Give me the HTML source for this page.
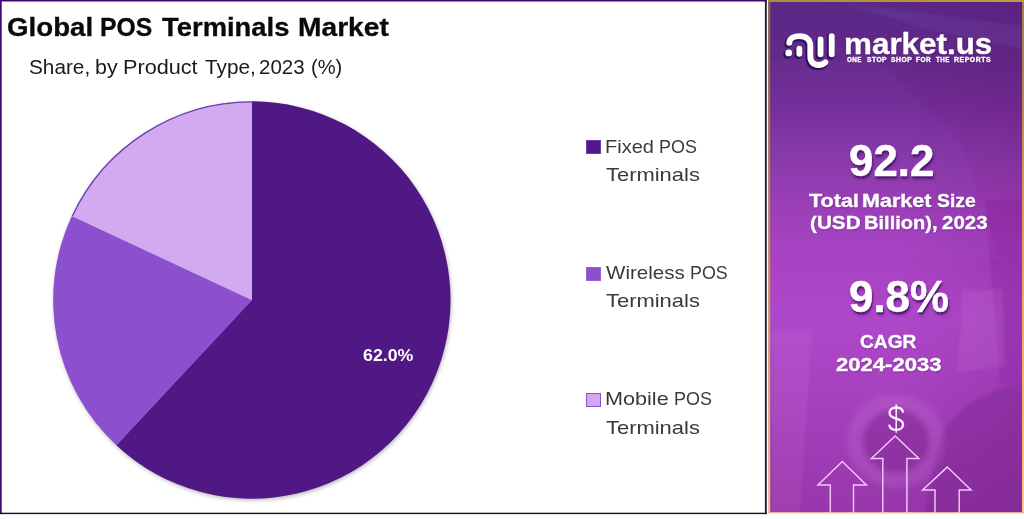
<!DOCTYPE html>
<html>
<head>
<meta charset="utf-8">
<style>
html,body{margin:0;padding:0;background:#fff;}
body{width:1024px;height:519px;position:relative;overflow:hidden;font-family:"Liberation Sans",sans-serif;}
.abs{position:absolute;white-space:nowrap;line-height:1;transform-origin:0 0;}
#left{position:absolute;left:0;top:0;width:767px;height:514px;background:#fff;}
#right{position:absolute;left:768px;top:0;width:256px;height:513px;box-sizing:border-box;overflow:hidden;
background:linear-gradient(90deg,rgba(80,0,90,0) 50%,rgba(90,0,90,0.13) 100%),linear-gradient(180deg,#5a2885 0px,#5e2888 30px,#642a8a 67px,#722c94 105px,#8838a8 160px,#9a3cb2 200px,#a741c0 247px,#ae48ca 320px,#a842c0 388px,#a03cb6 447px,#9836aa 514px);}
.title{font-weight:bold;color:#0a0a0a;-webkit-text-stroke:0.3px #0a0a0a;}
.sub{color:#1a1a1a;}
.leg{color:#3a3a3a;}
.dol{color:#fff;}
.sq{position:absolute;left:586px;width:15px;height:14px;box-sizing:border-box;}
.w{color:#fff;font-weight:bold;-webkit-text-stroke:0.35px #fff;text-shadow:0.5px 1px 1.5px rgba(55,10,85,0.45);}
.pc{text-shadow:none;-webkit-text-stroke:0;}
.big{text-shadow:0.8px 1.8px 0.8px rgba(75,20,110,0.85),1px 2.5px 3px rgba(50,5,80,0.55);-webkit-text-stroke:0.5px #fff;}
</style>
</head>
<body>
<div id="left"></div>

<svg class="abs" style="left:0;top:0" width="767" height="515" viewBox="0 0 767 515">
  <defs>
    <filter id="sh" x="-10%" y="-10%" width="120%" height="120%"><feGaussianBlur stdDeviation="2.2"/></filter>
  </defs>
  <circle cx="252.6" cy="301.6" r="198.4" fill="#555" opacity="0.45" filter="url(#sh)"/>
  <g id="pie">
<path d="M251.85,300.0 L251.85,101.30 A198.7,198.7 0 1 1 116.34,445.32 Z" fill="#4f1884"/>
<path d="M251.85,300.0 L116.34,445.32 A198.7,198.7 0 0 1 71.77,216.03 Z" fill="#8c50cf"/>
<path d="M251.85,300.0 L71.77,216.03 A198.7,198.7 0 0 1 251.85,101.30 Z" fill="#d3a9ef"/>
<path d="M72.22,216.24 A198.2,198.2 0 0 1 251.85,101.80" fill="none" stroke="#6a40ac" stroke-width="1.3"/>
</g>
<g id="lb">
  <rect x="0" y="0" width="766.8" height="1.5" fill="#3b0a68"/>
  <rect x="0" y="0" width="1.7" height="514.1" fill="#3b0a70"/>
  <rect x="764.9" y="0" width="1.9" height="514.1" fill="#2a1c34"/>
  <rect x="0" y="512.7" width="766.8" height="1.4" fill="#1c0a2c"/>
</g>
</svg>

<div class="sq" style="top:140px;background:#4f1a87;border:1px solid #6b3bb0;"></div>
<div class="sq" style="top:266.5px;background:#8c50cf;border:1px solid #9a62d8;"></div>
<div class="sq" style="top:393px;background:#d3a9ef;border:1.3px solid #8c50cf;"></div>

<div id="right">
<svg style="position:absolute;left:0;top:0" width="256" height="514" viewBox="768 0 256 514">
  <defs>
    <filter id="bb" x="-30%" y="-30%" width="160%" height="160%"><feGaussianBlur stdDeviation="3"/></filter>
    <filter id="bb2" x="-30%" y="-30%" width="160%" height="160%"><feGaussianBlur stdDeviation="1.5"/></filter>
  </defs>
  <g filter="url(#bb2)">
    <polygon points="842,3 1022,26 1022,48 930,30" fill="#8a6ad0" opacity="0.14"/>
    <polygon points="772,60 880,60 960,140 1000,260 772,260" fill="#9a60e0" opacity="0.07"/>
    <polygon points="962,290 1002,290 1004,366 958,372" fill="#e8b0f0" opacity="0.10"/>
    <polygon points="772,330 812,330 800,514 772,514" fill="#f0b8f8" opacity="0.08"/>
    <polygon points="985,200 1022,200 1022,384 1000,384" fill="#701880" opacity="0.16"/>
    <path d="M1024,384 C990,388 962,404 945,430 C936,446 930,480 926.5,514 L1024,514 Z" fill="#6a1880" opacity="0.30"/>
  </g>
  <g filter="url(#bb)">
    <ellipse cx="896" cy="441" rx="42" ry="40" fill="none" stroke="#e8b8f4" stroke-width="13" opacity="0.13"/>
    <ellipse cx="896" cy="441.5" rx="34.5" ry="32.5" fill="#70187f" opacity="0.30"/>
  </g>
</svg>
</div>
<svg class="abs" style="left:768px;top:0" width="256" height="514" viewBox="768 0 256 514">
  <defs>
    <filter id="b1" x="-30%" y="-30%" width="160%" height="160%"><feGaussianBlur stdDeviation="0.7"/></filter>
  </defs>
  <!-- logo shadow -->
  <g transform="translate(-1.1,1.5)" stroke="#2f0d56" fill="none" stroke-linecap="round" stroke-linejoin="round" opacity="0.9" filter="url(#b1)">
    <g stroke-width="7.3">
    <path d="M789.25,42.8 C789.5,38.2 793.9,36.15 799.6,36.15 C806.2,36.15 810.3,39.8 810.3,45.6 L810.3,56.3 C810.3,61.8 813.6,64.95 818.4,64.95 C821.4,64.95 823.9,64.1 825.3,62.4"/>
    <path d="M799.3,48.65 L799.3,53.85"/>
    <path d="M820.5,39.55 L820.5,54.35"/>
    <path d="M831.7,36.15 L831.7,54.35"/>
    </g>
    <circle cx="788.7" cy="52.9" r="4.3" fill="#2f0d56" stroke="none"/>
  </g>
  <!-- logo -->
  <g stroke="#fff" fill="none" stroke-linecap="round" stroke-linejoin="round" stroke-width="5.9">
    <path d="M789.25,42.8 C789.5,38.2 793.9,36.15 799.6,36.15 C806.2,36.15 810.3,39.8 810.3,45.6 L810.3,56.3 C810.3,61.8 813.6,64.95 818.4,64.95 C821.4,64.95 823.9,64.1 825.3,62.4"/>
    <path d="M799.3,48.65 L799.3,53.85"/>
    <path d="M820.5,39.55 L820.5,54.35"/>
    <path d="M831.7,36.15 L831.7,54.35"/>
  </g>
  <circle cx="788.7" cy="52.9" r="3.4" fill="#fff"/>
  <!-- dollar -->
  <g stroke="#fdf0ff" fill="none">
    <path d="M903.1,412.7 C902.7,409.3 900,407.5 896.2,407.5 C892.2,407.5 889.5,409.7 889.5,413 C889.5,416.5 892.5,417.6 896.2,418.6 C900,419.6 903.1,420.8 903.1,424.4 C903.1,427.8 900.2,429.8 896.2,429.8 C892.2,429.8 889.5,427.9 889.2,424.6" stroke-width="2.3"/>
    <path d="M896.2,404.3 L896.2,432.7" stroke-width="1.5"/>
  </g>
  <!-- arrows -->
  <g stroke="#f3c8fa" stroke-width="1.45" fill="none" stroke-linejoin="miter">
    <path d="M882.8,513 L882.8,458.4 L871.4,458.4 L895.2,436 L918.9,458.4 L906.9,458.4 L906.9,513"/>
    <path d="M830.3,513 L830.3,485 L817.9,485 L842.3,461.4 L866.4,485 L853.5,485 L853.5,513"/>
    <path d="M935,513 L935,490 L922.6,490 L947.2,467.1 L971.1,490 L959.2,490 L959.2,513"/>
  </g>
</svg>
<svg class="abs" style="left:768px;top:0" width="256" height="515" viewBox="768 0 256 515">
  <defs>
    <linearGradient id="gl" x1="0" y1="0" x2="0" y2="512" gradientUnits="userSpaceOnUse">
      <stop offset="0" stop-color="#8e6c58"/><stop offset="0.13" stop-color="#94705a"/><stop offset="0.48" stop-color="#c49070"/><stop offset="0.87" stop-color="#e8b088"/><stop offset="1" stop-color="#f4c098"/>
    </linearGradient>
    <linearGradient id="gr" x1="0" y1="0" x2="0" y2="512" gradientUnits="userSpaceOnUse">
      <stop offset="0" stop-color="#a88244"/><stop offset="0.13" stop-color="#b08848"/><stop offset="0.48" stop-color="#e8a460"/><stop offset="0.87" stop-color="#fcc070"/><stop offset="1" stop-color="#fdd090"/>
    </linearGradient>
    <linearGradient id="gt" x1="768" y1="0" x2="1024" y2="0" gradientUnits="userSpaceOnUse">
      <stop offset="0" stop-color="#b08a40"/><stop offset="1" stop-color="#c09848"/>
    </linearGradient>
    <linearGradient id="gb" x1="0" y1="512.2" x2="0" y2="514.6" gradientUnits="userSpaceOnUse">
      <stop offset="0" stop-color="#f6c8a4"/><stop offset="1" stop-color="#fff8f0"/>
    </linearGradient>
  </defs>
  <rect x="768" y="0" width="2.2" height="512.2" fill="url(#gl)"/>
  <rect x="1022.1" y="0" width="1.9" height="512.2" fill="url(#gr)"/>
  <rect x="768" y="0" width="256" height="2" fill="url(#gt)"/>
  <rect x="768" y="512.2" width="256" height="2.4" fill="url(#gb)"/>
</svg>
<div class="abs title" id="title0" style="left:7.13px;top:14.97px;font-size:25.8px;transform:scaleX(1.0735);">Global</div>
<div class="abs title" id="title1" style="left:99.52px;top:14.97px;font-size:25.8px;transform:scaleX(0.9585);">POS</div>
<div class="abs title" id="title2" style="left:161.83px;top:14.97px;font-size:25.8px;transform:scaleX(1.0627);">Terminals</div>
<div class="abs title" id="title3" style="left:298.09px;top:14.97px;font-size:25.8px;transform:scaleX(1.0926);">Market</div>
<div class="abs sub" id="sub0" style="left:29.12px;top:57.72px;font-size:19.3px;transform:scaleX(1.0765);">Share,</div>
<div class="abs sub" id="sub1" style="left:94.51px;top:57.72px;font-size:19.3px;transform:scaleX(1.1105);">by</div>
<div class="abs sub" id="sub2" style="left:123.22px;top:57.72px;font-size:19.3px;transform:scaleX(1.1228);">Product</div>
<div class="abs sub" id="sub3" style="left:205.26px;top:57.72px;font-size:19.3px;transform:scaleX(1.0756);">Type,</div>
<div class="abs sub" id="sub4" style="left:259.24px;top:57.72px;font-size:19.3px;transform:scaleX(1.0634);">2023</div>
<div class="abs sub" id="sub5" style="left:311.20px;top:57.72px;font-size:19.3px;transform:scaleX(1.0436);">(%)</div>
<div class="abs leg" id="l1a0" style="left:604.99px;top:137.55px;font-size:18.6px;transform:scaleX(1.0760);">Fixed</div>
<div class="abs leg" id="l1a1" style="left:659.05px;top:137.55px;font-size:18.6px;transform:scaleX(0.9649);">POS</div>
<div class="abs leg" id="l1b0" style="left:606.31px;top:165.75px;font-size:18.6px;transform:scaleX(1.1796);">Terminals</div>
<div class="abs leg" id="l2a0" style="left:606.00px;top:263.85px;font-size:18.6px;transform:scaleX(1.1050);">Wireless</div>
<div class="abs leg" id="l2a1" style="left:690.36px;top:263.85px;font-size:18.6px;transform:scaleX(0.9595);">POS</div>
<div class="abs leg" id="l2b0" style="left:606.31px;top:292.35px;font-size:18.6px;transform:scaleX(1.1796);">Terminals</div>
<div class="abs leg" id="l3a0" style="left:604.86px;top:389.95px;font-size:18.6px;transform:scaleX(1.1619);">Mobile</div>
<div class="abs leg" id="l3a1" style="left:674.05px;top:389.95px;font-size:18.6px;transform:scaleX(0.9649);">POS</div>
<div class="abs leg" id="l3b0" style="left:606.31px;top:418.95px;font-size:18.6px;transform:scaleX(1.1796);">Terminals</div>
<div class="abs w pc" id="pct0" style="left:363.12px;top:347.32px;font-size:17.2px;transform:scaleX(1.0337);">62.0%</div>
<div class="abs w" id="mk0" style="left:844.23px;top:29.62px;font-size:29px;transform:scaleX(1.0826);">market.us</div>
<div class="abs w tg" id="tag0" style="left:846.76px;top:56.54px;font-size:6.7px;transform:scaleX(0.9400);letter-spacing:0.5px;">ONE</div>
<div class="abs w tg" id="tag1" style="left:866.65px;top:56.54px;font-size:6.7px;transform:scaleX(0.9974);letter-spacing:0.5px;">STOP</div>
<div class="abs w tg" id="tag2" style="left:891.35px;top:56.54px;font-size:6.7px;transform:scaleX(1.0150);letter-spacing:0.5px;">SHOP</div>
<div class="abs w tg" id="tag3" style="left:916.12px;top:56.54px;font-size:6.7px;transform:scaleX(0.9655);letter-spacing:0.5px;">FOR</div>
<div class="abs w tg" id="tag4" style="left:936.10px;top:56.54px;font-size:6.7px;transform:scaleX(0.9333);letter-spacing:0.5px;">THE</div>
<div class="abs w tg" id="tag5" style="left:954.28px;top:56.54px;font-size:6.7px;transform:scaleX(1.0360);letter-spacing:0.5px;">REPORTS</div>
<div class="abs w big" id="n10" style="left:848.52px;top:139.33px;font-size:44.4px;transform:scaleX(0.9874);">92.2</div>
<div class="abs w" id="t10" style="left:808.81px;top:192.05px;font-size:18.6px;transform:scaleX(1.1639);">Total</div>
<div class="abs w" id="t11" style="left:861.65px;top:192.05px;font-size:18.6px;transform:scaleX(1.1590);">Market</div>
<div class="abs w" id="t12" style="left:936.78px;top:192.05px;font-size:18.6px;transform:scaleX(1.0417);">Size</div>
<div class="abs w" id="t20" style="left:810.09px;top:214.45px;font-size:18.6px;transform:scaleX(1.1131);">(USD</div>
<div class="abs w" id="t21" style="left:863.85px;top:214.45px;font-size:18.6px;transform:scaleX(1.0798);">Billion),</div>
<div class="abs w" id="t22" style="left:942.17px;top:214.45px;font-size:18.6px;transform:scaleX(1.1000);">2023</div>
<div class="abs w big" id="n20" style="left:848.52px;top:275.33px;font-size:44.4px;transform:scaleX(0.9888);">9.8%</div>
<div class="abs w" id="t30" style="left:860.23px;top:332.75px;font-size:18.6px;transform:scaleX(1.0299);">CAGR</div>
<div class="abs w" id="t40" style="left:836.11px;top:355.95px;font-size:18.6px;transform:scaleX(1.1874);">2024-2033</div>
</body>
</html>
